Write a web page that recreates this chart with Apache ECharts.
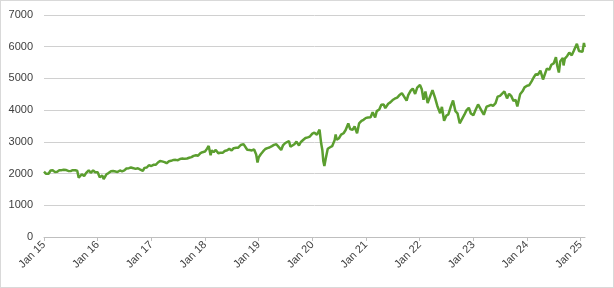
<!DOCTYPE html>
<html>
<head>
<meta charset="utf-8">
<script src="https://cdn.jsdelivr.net/npm/echarts@6/dist/echarts.min.js"></script>
<style>
html,body{margin:0;padding:0;background:#fff;}
#c{width:614px;height:288px;box-sizing:border-box;border:1px solid #d9d9d9;}
</style>
</head>
<body>
<div id="c"></div>
<script>
// Dates (YYYY-MM-DD) and index values
const dates = [
"2015-01-01","2015-01-15","2015-02-01","2015-02-15","2015-03-01","2015-03-15","2015-04-01","2015-04-15","2015-05-01","2015-05-15","2015-06-01","2015-06-15","2015-07-01","2015-07-15","2015-08-01","2015-08-15","2015-08-25","2015-09-01","2015-09-15","2015-10-01","2015-10-15","2015-11-01","2015-11-15","2015-12-01","2015-12-15",
"2016-01-01","2016-01-15","2016-02-01","2016-02-11","2016-03-01","2016-03-15","2016-04-01","2016-04-15","2016-05-01","2016-05-15","2016-06-01","2016-06-15","2016-07-01","2016-07-15","2016-08-01","2016-08-15","2016-09-01","2016-09-15","2016-10-01","2016-10-15","2016-11-04","2016-11-15","2016-12-01","2016-12-15",
"2017-01-01","2017-01-15","2017-02-01","2017-02-15","2017-03-01","2017-03-15","2017-04-01","2017-04-15","2017-05-01","2017-05-15","2017-06-01","2017-06-15","2017-07-01","2017-07-15","2017-08-01","2017-08-15","2017-09-01","2017-09-15","2017-10-01","2017-10-15","2017-11-01","2017-11-15","2017-12-01","2017-12-15",
"2018-01-01","2018-01-15","2018-01-26","2018-02-08","2018-02-15","2018-03-01","2018-03-15","2018-04-01","2018-04-15","2018-05-01","2018-05-15","2018-06-01","2018-06-15","2018-07-01","2018-07-15","2018-08-01","2018-08-15","2018-09-01","2018-09-20","2018-10-03","2018-10-15","2018-11-01","2018-11-15","2018-12-01","2018-12-15","2018-12-24",
"2019-01-01","2019-01-15","2019-02-01","2019-02-15","2019-03-01","2019-03-15","2019-04-01","2019-04-15","2019-05-01","2019-05-15","2019-06-03","2019-06-15","2019-07-01","2019-07-26","2019-08-05","2019-08-15","2019-09-01","2019-09-15","2019-10-02","2019-10-15","2019-11-01","2019-11-15","2019-12-01","2019-12-15",
"2020-01-01","2020-01-15","2020-02-01","2020-02-19","2020-03-01","2020-03-09","2020-03-16","2020-03-23","2020-04-01","2020-04-15","2020-05-01","2020-05-15","2020-06-01","2020-06-08","2020-06-15","2020-07-01","2020-07-15","2020-08-01","2020-08-15","2020-09-02","2020-09-15","2020-10-01","2020-10-15","2020-11-01","2020-11-15","2020-12-01","2020-12-15",
"2021-01-01","2021-01-15","2021-02-01","2021-02-15","2021-03-04","2021-03-15","2021-04-01","2021-04-15","2021-05-01","2021-05-12","2021-06-01","2021-06-15","2021-07-01","2021-07-15","2021-08-01","2021-08-15","2021-09-02","2021-09-15","2021-10-04","2021-10-15","2021-11-01","2021-11-15","2021-12-01","2021-12-15",
"2022-01-03","2022-01-15","2022-01-27","2022-02-09","2022-02-24","2022-03-08","2022-03-29","2022-04-15","2022-05-01","2022-05-20","2022-06-01","2022-06-16","2022-07-01","2022-07-15","2022-08-01","2022-08-16","2022-09-01","2022-09-15","2022-09-30","2022-10-12","2022-11-01","2022-11-15","2022-12-01","2022-12-15",
"2023-01-01","2023-01-15","2023-02-02","2023-02-15","2023-03-01","2023-03-13","2023-04-01","2023-04-15","2023-05-01","2023-05-15","2023-06-01","2023-06-15","2023-07-01","2023-07-31","2023-08-18","2023-09-01","2023-09-15","2023-10-01","2023-10-15","2023-10-27","2023-11-15","2023-12-01","2023-12-15",
"2024-01-01","2024-01-15","2024-02-01","2024-02-15","2024-03-01","2024-03-15","2024-04-01","2024-04-19","2024-05-01","2024-05-15","2024-06-01","2024-06-15","2024-07-01","2024-07-16","2024-07-25","2024-08-05","2024-08-15","2024-09-01","2024-09-06","2024-09-15","2024-10-01","2024-10-15","2024-11-01","2024-11-15","2024-12-06","2024-12-20",
"2025-01-01","2025-01-13","2025-01-23","2025-01-27","2025-01-31"
];
const values = [
2058,1992,1995,2096,2104,2053,2060,2106,2108,2122,2111,2084,2077,2107,2104,2091,1868,1914,1978,1923,2023,2104,2023,2102,2043,
2044,1880,1940,1829,1978,2015,2072,2081,2065,2047,2099,2072,2102,2161,2170,2190,2170,2147,2168,2132,2085,2180,2191,2262,
2238,2275,2279,2349,2395,2385,2362,2328,2388,2402,2430,2432,2423,2459,2476,2464,2476,2500,2519,2557,2579,2564,2642,2675,
2695,2786,2872,2581,2731,2677,2747,2640,2656,2654,2711,2734,2779,2726,2801,2813,2818,2901,2930,2925,2750,2740,2730,2760,2600,2351,
2510,2610,2706,2775,2803,2822,2867,2905,2924,2850,2744,2886,2964,3025,2845,2847,2926,3007,2887,2995,3066,3120,3141,3168,
3258,3289,3225,3386,2954,2746,2386,2237,2470,2783,2830,2863,3055,3232,3066,3115,3226,3271,3373,3580,3401,3380,3483,3270,3585,3662,3694,
3756,3768,3773,3934,3768,3968,4020,4170,4181,4063,4202,4246,4319,4360,4395,4468,4537,4480,4300,4471,4613,4682,4513,4709,
4796,4662,4326,4587,4225,4170,4631,4392,4132,3901,4101,3667,3825,3863,4118,4305,3966,3901,3585,3577,3856,3992,4076,3895,
3840,3999,4179,4147,3951,3855,4109,4137,4167,4136,4221,4425,4450,4589,4370,4515,4450,4288,4327,4117,4502,4594,4719,
4770,4783,4906,5030,5137,5117,5243,4967,5018,5308,5277,5431,5475,5667,5400,5186,5543,5648,5408,5626,5708,5815,5728,5870,6090,5867,
5868,5836,6118,6012,6040
];

function toYear(s){
  const p = s.split('-').map(Number);
  const start = Date.UTC(p[0],0,1), end = Date.UTC(p[0]+1,0,1);
  return p[0] + (Date.UTC(p[0],p[1]-1,p[2]) - start)/(end-start);
}
const seriesData = dates.map((d,i)=>[toYear(d), values[i]]);

const chart = echarts.init(document.getElementById('c'));
const font = '"Liberation Sans", Arial, sans-serif';
chart.setOption({
  animation:false,
  grid:{left:43,right:28,top:14,bottom:50,containLabel:false},
  xAxis:{
    type:'value', min:2015, max:2025.08, interval:1,
    axisLine:{show:true,lineStyle:{color:'#bfbfbf',width:1}},
    axisTick:{show:true,length:4,lineStyle:{color:'#bfbfbf'}},
    splitLine:{show:false},
    axisLabel:{rotate:45,margin:6,color:'#404040',fontSize:11,fontFamily:font,
      showMaxLabel:false,
      formatter:v=>Number.isInteger(v)?('Jan '+String(v).slice(2)):''}
  },
  yAxis:{
    type:'value', min:0, max:7000, interval:1000,
    axisLine:{show:false}, axisTick:{show:false},
    splitLine:{lineStyle:{color:'#d0d0d0',width:1}},
    axisLabel:{margin:11,color:'#404040',fontSize:11,fontFamily:font,formatter:v=>String(v)}
  },
  series:[{
    type:'line', data:seriesData, showSymbol:false, symbol:'none',
    lineStyle:{color:'#5b9e2f',width:2.5}, z:3
  }]
});
</script>
</body>
</html>
